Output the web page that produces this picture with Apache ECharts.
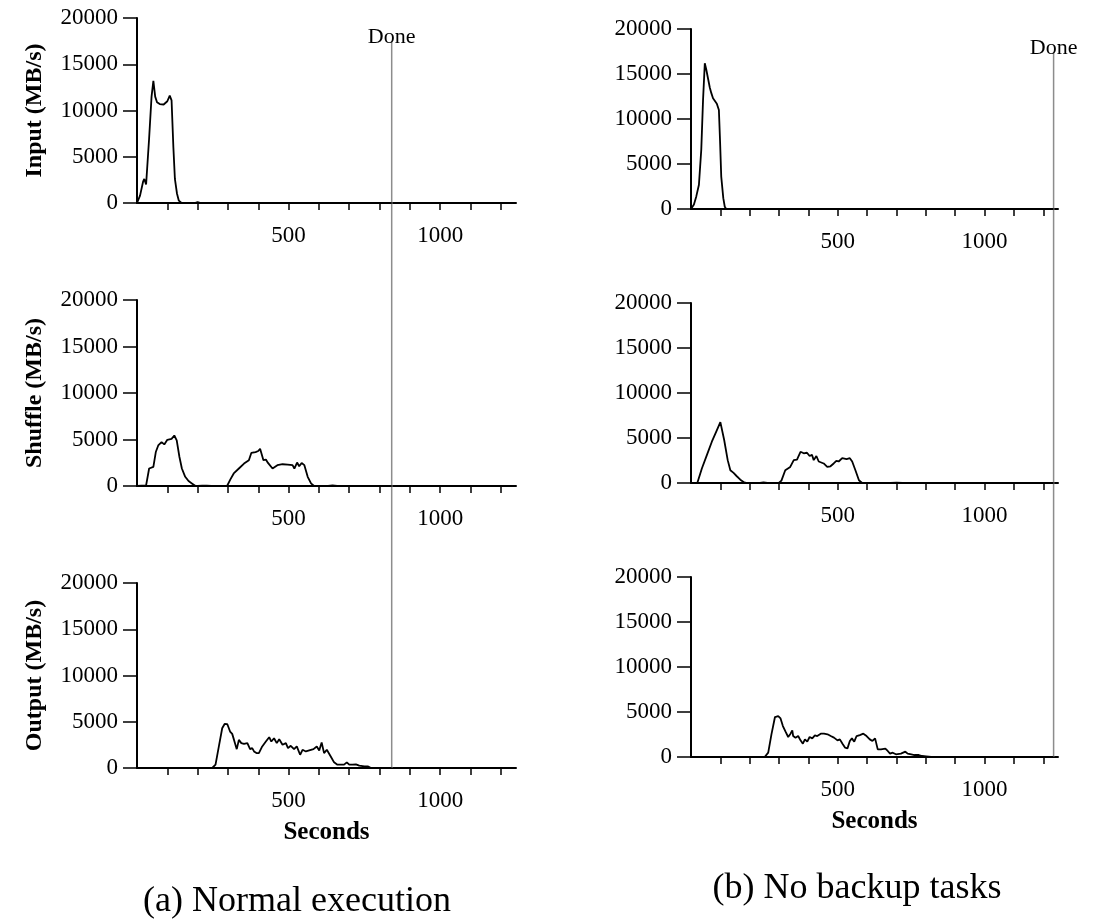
<!DOCTYPE html>
<html>
<head>
<meta charset="utf-8">
<script src="https://cdn.jsdelivr.net/npm/echarts@6/dist/echarts.min.js"></script>
<style>
html, body { margin: 0; padding: 0; background: #fff; }
#main { width: 1096px; height: 920px; }
</style>
</head>
<body>
<div id="main"></div>
<script>
// [seconds, MB/s]
var leftInput = [[0,0],[10,800],[20,2300],[24,2600],[30,2000],[40,7000],[48,11500],[54,13200],[60,11500],[66,10900],[75,10700],[88,10650],[100,11000],[108,11600],[114,11100],[120,6000],[125,2600],[132,1000],[138,250],[147,0],[190,0],[200,100],[210,0],[840,0]];
var leftShuffle = [[0,0],[30,70],[40,1880],[46,1700],[54,2060],[62,3650],[70,4360],[81,4720],[90,4470],[100,4970],[114,5070],[123,5430],[131,4900],[140,3120],[148,1880],[159,990],[170,530],[181,280],[192,30],[200,0],[215,50],[230,50],[245,0],[297,0],[308,710],[319,1350],[336,1880],[353,2410],[369,2770],[377,3550],[391,3650],[400,3760],[406,4010],[417,2770],[425,2840],[432,2480],[447,1880],[463,2240],[480,2340],[497,2300],[513,2240],[519,1880],[528,2520],[535,2130],[543,2480],[552,2240],[563,990],[574,280],[583,30],[590,0],[630,0],[645,60],[660,0],[840,0]];
var leftOutput = [[0,0],[248,0],[259,360],[270,2330],[281,4300],[289,4760],[298,4730],[307,3940],[314,3690],[320,3040],[329,2040],[336,3040],[344,2690],[353,2610],[364,2690],[373,2040],[380,2150],[386,1790],[394,1610],[402,1610],[413,2330],[425,2860],[436,3330],[443,2860],[452,3220],[461,2690],[469,3110],[480,2510],[491,2690],[498,2150],[507,2400],[518,2040],[527,2330],[538,1430],[546,1970],[557,1790],[568,1900],[582,2040],[593,2330],[601,1900],[609,2760],[617,1610],[626,1970],[639,1250],[650,610],[661,360],[672,360],[683,360],[692,610],[700,360],[711,360],[722,390],[733,250],[750,180],[761,180],[772,0],[840,0]];

var rightInput = [[0,0],[10,500],[18,1400],[27,2700],[35,6600],[41,12100],[47,16200],[52,15500],[58,14500],[64,13500],[69,12900],[75,12300],[81,12100],[88,11700],[95,11000],[99,7500],[103,3600],[110,1200],[115,250],[120,0],[1235,0]];
var rightShuffle = [[0,0],[22,50],[37,1610],[54,3100],[71,4590],[86,5710],[100,6760],[113,4780],[125,2540],[134,1420],[145,1120],[156,750],[168,370],[179,110],[190,0],[235,0],[247,60],[260,0],[299,0],[308,260],[321,1420],[338,1790],[350,2540],[361,2610],[373,3470],[384,3300],[395,3360],[404,3000],[412,3130],[418,2540],[427,3000],[435,2390],[441,2540],[452,2170],[464,1790],[475,1860],[486,2170],[495,2460],[503,2390],[515,2760],[530,2650],[541,2760],[549,2390],[560,1420],[572,300],[583,0],[680,0],[700,50],[720,0],[1235,0]];
var rightOutput = [[0,0],[251,0],[263,480],[274,2520],[286,4440],[297,4550],[305,4290],[313,3440],[322,2810],[331,2220],[339,2590],[345,2960],[348,2330],[356,2150],[365,2330],[373,1850],[381,1480],[388,1960],[396,1700],[404,2220],[413,2070],[422,2400],[430,2330],[442,2590],[453,2590],[465,2520],[476,2330],[487,2150],[499,1850],[507,1960],[516,1480],[525,1040],[533,960],[541,1780],[548,2070],[556,1700],[564,2330],[575,2440],[587,2590],[598,2330],[609,1960],[618,1780],[627,2070],[636,850],[647,850],[662,925],[670,670],[678,370],[687,480],[698,300],[715,370],[730,590],[738,370],[750,300],[761,220],[776,220],[787,110],[801,70],[818,0],[1235,0]];

var doneLeft = 840;
var doneRight = 1235;

var xTicks = [100, 200, 300, 400, 500, 600, 700, 800, 900, 1000, 1100, 1200];
var xLabels = [500, 1000];
var yNames = ['Input (MB/s)', 'Shuffle (MB/s)', 'Output (MB/s)'];

var serif = "'Liberation Serif', 'DejaVu Serif', serif";

var grids = [
    {left: 137, top: 18, width: 379, height: 185},
    {left: 137, top: 300, width: 379, height: 186},
    {left: 137, top: 583, width: 379, height: 185},
    {left: 691, top: 29, width: 367, height: 180},
    {left: 691, top: 303, width: 367, height: 180},
    {left: 691, top: 577, width: 367, height: 180},
    // overlays for the "Done" lines that cross all three panels
    {left: 137, top: 42, width: 379, height: 726},
    {left: 691, top: 53, width: 367, height: 704}
];

var xAxes = [], yAxes = [];
for (var i = 0; i < 6; i++) {
    var bottom = (i === 2 || i === 5);
    xAxes.push({
        type: 'value', gridIndex: i, min: 0, max: 1250,
        name: bottom ? 'Seconds' : '',
        nameLocation: 'middle', nameGap: 52,
        nameTextStyle: {fontFamily: serif, fontSize: 25, fontWeight: 'bold', color: '#000'},
        splitLine: {show: false},
        axisLine: {onZero: false, lineStyle: {color: '#000', width: 2}},
        axisTick: {customValues: xTicks, length: 7, lineStyle: {color: '#000', width: 1.5}},
        axisLabel: {customValues: xLabels, margin: 21, fontFamily: serif, fontSize: 23, color: '#000',
            formatter: function (v) { return String(v); }}
    });
    yAxes.push({
        type: 'value', gridIndex: i, min: 0, max: 20000, interval: 5000,
        name: i < 3 ? yNames[i] : '',
        nameLocation: 'middle', nameGap: 90,
        nameTextStyle: {fontFamily: serif, fontSize: 24, fontWeight: 'bold', color: '#000'},
        splitLine: {show: false},
        axisLine: {show: true, lineStyle: {color: '#000', width: 2}},
        axisTick: {show: true, length: 14, lineStyle: {color: '#000', width: 1.5}},
        axisLabel: {margin: 19, fontFamily: serif, fontSize: 23, color: '#000',
            formatter: function (v) { return String(v); }}
    });
}
for (var j = 6; j < 8; j++) {
    xAxes.push({type: 'value', gridIndex: j, min: 0, max: 1250, show: false});
    yAxes.push({type: 'value', gridIndex: j, min: 0, max: 1, show: false});
}

function curve(data, idx) {
    return {
        type: 'line', xAxisIndex: idx, yAxisIndex: idx, data: data,
        showSymbol: false, silent: true,
        lineStyle: {color: '#000', width: 1.8}
    };
}

function doneLine(x, idx) {
    return [{
        type: 'line', xAxisIndex: idx, yAxisIndex: idx, data: [[x, 0], [x, 1]],
        showSymbol: false, silent: true, z: 1,
        lineStyle: {color: '#8c8c8c', width: 1.5}
    }, {
        type: 'scatter', xAxisIndex: idx, yAxisIndex: idx, data: [[x, 1]],
        symbolSize: 1, itemStyle: {color: '#8c8c8c'}, silent: true,
        label: {show: true, position: 'top', distance: -7, formatter: 'Done',
            fontFamily: serif, fontSize: 22, color: '#000', opacity: 1}
    }];
}

var myChart = echarts.init(document.getElementById('main'));
var option = {
    animation: false,
    backgroundColor: '#fff',
    title: [{
        text: '(a) Normal execution', left: 297, top: 884, textAlign: 'center', padding: 0,
        textStyle: {fontFamily: serif, fontSize: 36, fontWeight: 'normal', color: '#000'}
    }, {
        text: '(b) No backup tasks', left: 857, top: 871, textAlign: 'center', padding: 0,
        textStyle: {fontFamily: serif, fontSize: 36, fontWeight: 'normal', color: '#000'}
    }],
    grid: grids,
    xAxis: xAxes,
    yAxis: yAxes,
    series: [
        curve(leftInput, 0), curve(leftShuffle, 1), curve(leftOutput, 2),
        curve(rightInput, 3), curve(rightShuffle, 4), curve(rightOutput, 5)
    ].concat(doneLine(doneLeft, 6), doneLine(doneRight, 7))
};
myChart.setOption(option);
</script>
</body>
</html>
